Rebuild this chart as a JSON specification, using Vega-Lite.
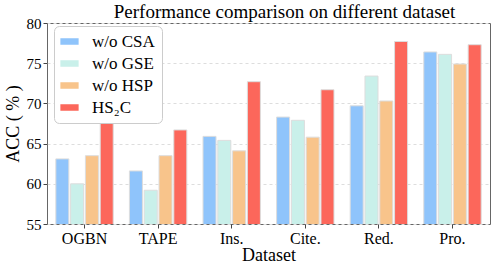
{
  "$schema": "https://vega.github.io/schema/vega-lite/v6.json",
  "width": 498,
  "height": 265,
  "autosize": {"type": "fit", "contains": "padding"},
  "padding": {"left": 4, "right": 8, "top": 3, "bottom": 1},
  "title": {"text": "Performance comparison on different dataset", "font": "serif", "fontSize": 19, "fontWeight": "normal", "color": "#000", "offset": -6, "dx": 16},
  "config": {
    "view": {"stroke": "#666", "strokeWidth": 1},
    "font": "serif"
  },
  "data": {
    "values": [
      {"dataset": "OGBN", "variant": "w/o CSA", "acc": 63.1},
      {"dataset": "OGBN", "variant": "w/o GSE", "acc": 60.0},
      {"dataset": "OGBN", "variant": "w/o HSP", "acc": 63.5},
      {"dataset": "OGBN", "variant": "HS₂C", "acc": 68.5},
      {"dataset": "TAPE", "variant": "w/o CSA", "acc": 61.6},
      {"dataset": "TAPE", "variant": "w/o GSE", "acc": 59.2},
      {"dataset": "TAPE", "variant": "w/o HSP", "acc": 63.5},
      {"dataset": "TAPE", "variant": "HS₂C", "acc": 66.7},
      {"dataset": "Ins.", "variant": "w/o CSA", "acc": 65.9},
      {"dataset": "Ins.", "variant": "w/o GSE", "acc": 65.4},
      {"dataset": "Ins.", "variant": "w/o HSP", "acc": 64.1},
      {"dataset": "Ins.", "variant": "HS₂C", "acc": 72.7},
      {"dataset": "Cite.", "variant": "w/o CSA", "acc": 68.3},
      {"dataset": "Cite.", "variant": "w/o GSE", "acc": 67.9},
      {"dataset": "Cite.", "variant": "w/o HSP", "acc": 65.8},
      {"dataset": "Cite.", "variant": "HS₂C", "acc": 71.7},
      {"dataset": "Red.", "variant": "w/o CSA", "acc": 69.7},
      {"dataset": "Red.", "variant": "w/o GSE", "acc": 73.4},
      {"dataset": "Red.", "variant": "w/o HSP", "acc": 70.3},
      {"dataset": "Red.", "variant": "HS₂C", "acc": 77.7},
      {"dataset": "Pro.", "variant": "w/o CSA", "acc": 76.4},
      {"dataset": "Pro.", "variant": "w/o GSE", "acc": 76.1},
      {"dataset": "Pro.", "variant": "w/o HSP", "acc": 74.9},
      {"dataset": "Pro.", "variant": "HS₂C", "acc": 77.3}
    ]
  },
  "mark": {"type": "bar", "stroke": "#dddddd", "strokeWidth": 1, "clip": true},
  "encoding": {
    "x": {
      "field": "dataset", "type": "nominal", "sort": null,
      "scale": {"paddingInner": 0.22, "paddingOuter": 0.12},
      "axis": {"title": "Dataset", "titleFont": "serif", "titleFontSize": 18, "titleFontWeight": "normal", "titleColor": "#000", "titlePadding": 0,
               "labelFont": "serif", "labelAngle": 0, "labelFontSize": 16, "labelColor": "#000", "labelPadding": 2, "domain": false, "tickColor": "#444", "tickSize": 4}
    },
    "xOffset": {"field": "variant", "type": "nominal", "sort": ["w/o CSA", "w/o GSE", "w/o HSP", "HS₂C"], "scale": {"paddingInner": 0.12}},
    "y": {
      "field": "acc", "type": "quantitative",
      "scale": {"domain": [55, 80], "zero": false, "nice": false},
      "axis": {"title": "ACC ( % )", "titleFont": "serif", "titleFontSize": 18, "titleFontWeight": "normal", "titleColor": "#000", "titlePadding": 4,
               "values": [55, 60, 65, 70, 75, 80], "labelFont": "serif", "labelFontSize": 15, "labelColor": "#000", "domain": false, "tickColor": "#444", "tickSize": 4,
               "grid": true, "gridDash": [3, 3], "gridColor": "#dddddd"}
    },
    "color": {
      "field": "variant", "type": "nominal", "sort": ["w/o CSA", "w/o GSE", "w/o HSP", "HS₂C"],
      "scale": {"domain": ["w/o CSA", "w/o GSE", "w/o HSP", "HS₂C"], "range": ["#8fc4fb", "#c9f0ea", "#f8c48b", "#fc675b"]},
      "legend": {
        "title": null, "orient": "none", "legendX": 7, "legendY": 3, "labelFont": "serif",
        "labelFontSize": 17, "labelColor": "#000", "symbolType": "M-1.4,-0.5L1.4,-0.5L1.4,0.5L-1.4,0.5Z", "symbolSize": 170, "symbolStrokeWidth": 0,
        "rowPadding": 4, "padding": 7, "strokeColor": "#cccccc", "fillColor": "white", "cornerRadius": 5, "labelOffset": 14, "labelLimit": 200
      }
    }
  }
}
